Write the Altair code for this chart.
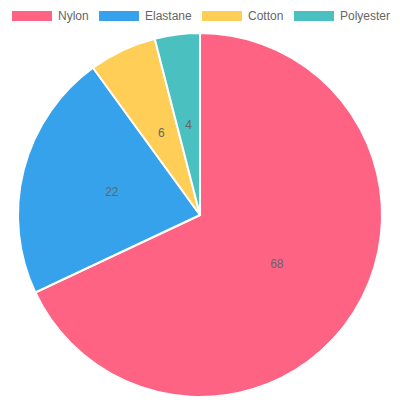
import altair as alt
import pandas as pd

materials = ["Nylon", "Elastane", "Cotton", "Polyester"]
shares = [68, 22, 6, 4]
colors = ["#FF6384", "#36A2EB", "#FFCE56", "#4BC0C0"]

df = pd.DataFrame({"material": materials, "share": shares, "idx": list(range(len(materials)))})

FONT = "Liberation Sans"

theta = alt.Theta("share:Q", stack=True)
order = alt.Order("idx:Q", sort="ascending")

base = alt.Chart(df).encode(
    theta=theta,
    order=order,
    x=alt.value(192),
    y=alt.value(199),
)

box = "M-1,-0.5L3,-0.5L3,0.5L-1,0.5Z"

arcs = base.mark_arc(outerRadius=182, stroke="white", strokeWidth=2).encode(
    color=alt.Color(
        "material:N",
        sort=materials,
        scale=alt.Scale(domain=materials, range=colors),
        legend=alt.Legend(
            title=None,
            orient="none",
            direction="horizontal",
            legendX=4,
            legendY=-10,
            symbolType=box,
            symbolSize=400,
            symbolStrokeWidth=0,
            symbolOpacity=1,
            labelOffset=26,
            columnPadding=10,
            labelFont=FONT,
            labelFontSize=12,
            labelColor="#666666",
            labelBaseline="middle",
        ),
    )
)

labels = base.mark_text(radius=91, font=FONT, fontSize=12, color="#666666").encode(
    text="share:Q"
)

chart = (
    alt.layer(arcs, labels)
    .properties(
        width=384,
        height=384,
        autosize=alt.AutoSizeParams(type="none"),
        padding={"top": 8, "left": 0, "right": 0, "bottom": 0},
    )
    .configure_view(stroke=None)
)

chart.save("out.html", embed_options={"renderer": "svg", "actions": False})
